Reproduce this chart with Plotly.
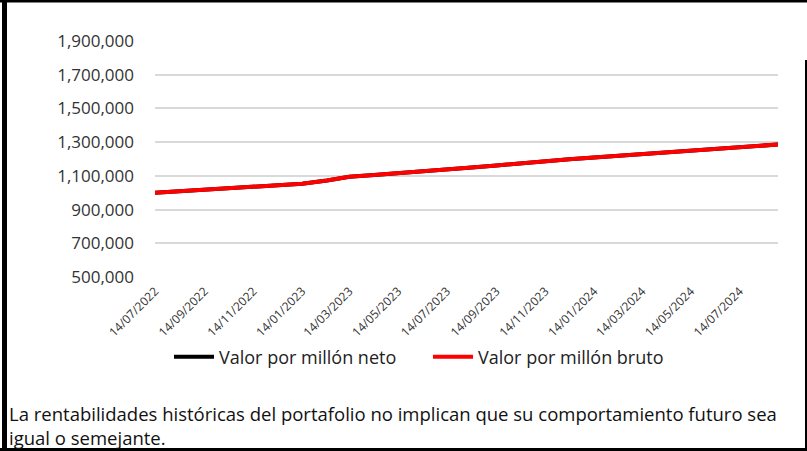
import plotly.graph_objects as go

dates = [
    "2022-07-14", "2022-08-14", "2022-09-14", "2022-10-14", "2022-11-14", "2022-12-14",
    "2023-01-14", "2023-02-14", "2023-03-14", "2023-04-14", "2023-05-14", "2023-06-14",
    "2023-07-14", "2023-08-14", "2023-09-14", "2023-10-14", "2023-11-14", "2023-12-14",
    "2024-01-14", "2024-02-14", "2024-03-14", "2024-04-14", "2024-05-14", "2024-06-14",
    "2024-07-14", "2024-08-14", "2024-08-31",
]
valor_bruto = [
    1000000, 1008000, 1017000, 1026000, 1033000, 1042000,
    1053000, 1072000, 1095000, 1105000, 1115000, 1126000,
    1137000, 1149000, 1162000, 1175000, 1187000, 1198000,
    1209000, 1219000, 1230000, 1240000, 1250000, 1259000,
    1268000, 1279000, 1286000,
]
valor_neto = list(valor_bruto)

tick_dates = ["2022-07-14", "2022-09-14", "2022-11-14", "2023-01-14", "2023-03-14",
              "2023-05-14", "2023-07-14", "2023-09-14", "2023-11-14", "2024-01-14",
              "2024-03-14", "2024-05-14", "2024-07-14"]
tick_text = ["14/07/2022", "14/09/2022", "14/11/2022", "14/01/2023", "14/03/2023",
             "14/05/2023", "14/07/2023", "14/09/2023", "14/11/2023", "14/01/2024",
             "14/03/2024", "14/05/2024", "14/07/2024"]

FONT = "Century Gothic, Open Sans, Lato, sans-serif"

W, H = 807, 451
ML, MR, MT, MB = 155, 29, 41, 174
PW, PH = W - ML - MR, H - MT - MB


def px_x(px):
    return (px - ML) / PW


def px_y(py):
    return (H - MB - py) / PH


fig = go.Figure()
fig.add_trace(go.Scatter(x=dates, y=valor_neto, mode="lines", name="Valor por millón neto",
                         line=dict(color="#000000", width=4)))
fig.add_trace(go.Scatter(x=dates, y=valor_bruto, mode="lines", name="Valor por millón bruto",
                         line=dict(color="#ff0000", width=4)))

fig.update_layout(
    width=W, height=H,
    margin=dict(l=ML, r=MR, t=MT, b=MB),
    paper_bgcolor="white", plot_bgcolor="white",
    font=dict(family=FONT, color="#333333"),
    showlegend=True,
    legend=dict(orientation="h", x=px_x(169), xanchor="left", y=px_y(357), yanchor="middle",
                font=dict(size=18, color="#222222"), entrywidth=204, entrywidthmode="pixels",
                itemwidth=40, bgcolor="rgba(0,0,0,0)"),
    xaxis=dict(
        type="date",
        range=["2022-07-14", "2024-08-31"],
        tickvals=tick_dates, ticktext=tick_text, tickangle=-45,
        tickfont=dict(size=12, color="#333333"),
        showgrid=False, showline=False, zeroline=False, ticks="",
        ticklabelstandoff=4,
    ),
    yaxis=dict(
        range=[500000, 1900000],
        tick0=500000, dtick=200000, tickformat=",",
        tickfont=dict(size=17, color="#333333"),
        showgrid=True, gridcolor="#d9d9d9", gridwidth=1.5,
        zeroline=False, showline=False, ticks="",
        ticklabelstandoff=20,
    ),
    hovermode=False,
)

fig.add_annotation(
    xref="paper", yref="paper", x=px_x(7), y=px_y(399), xanchor="left", yanchor="top",
    text="La rentabilidades históricas del portafolio no implican que su comportamiento futuro sea<br>igual o semejante.",
    align="left", showarrow=False, font=dict(size=18.5, color="#111111", family=FONT),
)

# border
border = [
    (px_x(0), px_y(1), px_x(W), px_y(1), 3),
    (px_x(4.5), px_y(0), px_x(4.5), px_y(H), 5),
    (px_x(0), px_y(449.5), px_x(W), px_y(449.5), 3),
    (px_x(806), px_y(60), px_x(806), px_y(H), 2),
]
for x0, y0, x1, y1, w in border:
    fig.add_shape(type="line", xref="paper", yref="paper", x0=x0, y0=y0, x1=x1, y1=y1,
                  line=dict(color="black", width=w))

fig.write_html("out.html", config={"displayModeBar": False},
               post_script="document.body.style.margin='0px';document.body.style.overflow='hidden';")
